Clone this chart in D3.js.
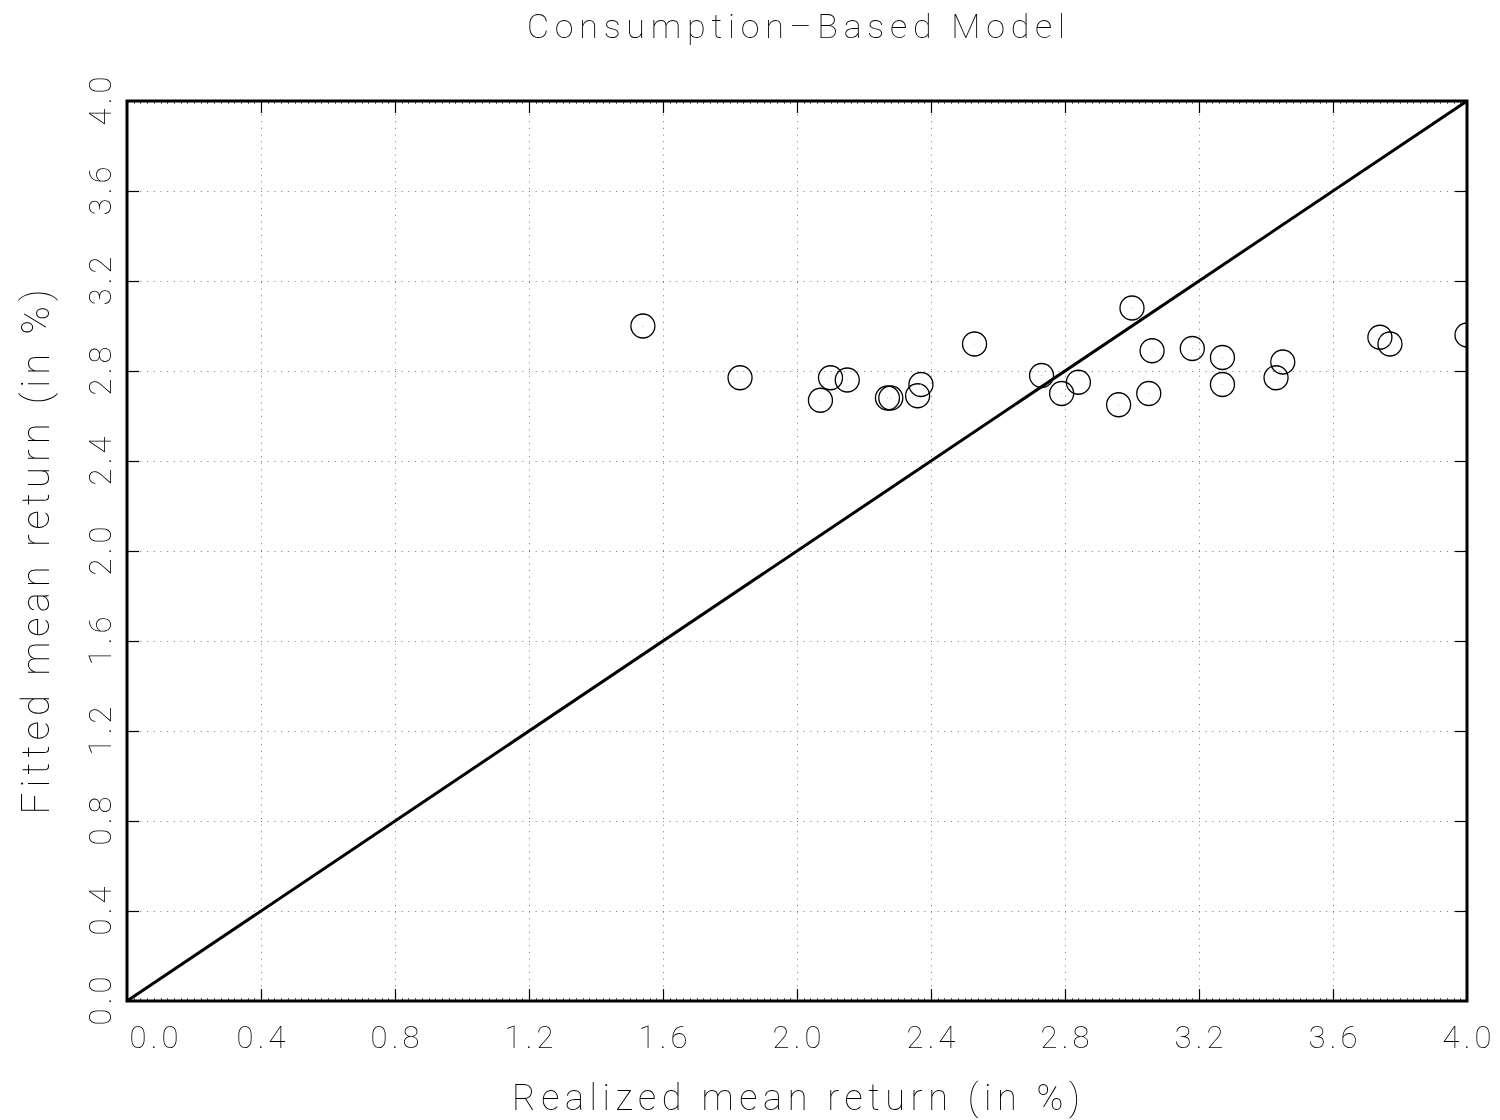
<!DOCTYPE html>
<html>
<head>
<meta charset="utf-8">
<script src="https://cdn.jsdelivr.net/npm/d3@7"></script>
<style>
  html, body { margin: 0; padding: 0; background: #fff; }
  #chart { filter: grayscale(1); }
  svg text { font-family: Roboto, "DejaVu Sans", sans-serif; font-weight: 100; fill: #000; }
</style>
</head>
<body>
<svg id="chart" width="1500" height="1120"></svg>
<script>
// Realized vs fitted mean returns (in %) for the test portfolios
const realized = [1.54, 1.83, 2.07, 2.10, 2.15, 2.27, 2.28, 2.36, 2.37, 2.53,
                  2.73, 2.79, 2.84, 3.00, 2.96, 3.06, 3.05, 3.18, 3.27, 3.27,
                  3.45, 3.43, 3.74, 3.77, 4.00];
const fitted   = [3.00, 2.77, 2.67, 2.77, 2.76, 2.68, 2.68, 2.69, 2.74, 2.92,
                  2.78, 2.70, 2.75, 3.08, 2.65, 2.89, 2.70, 2.90, 2.86, 2.74,
                  2.84, 2.77, 2.95, 2.92, 2.96];
const tickValues = [0.0, 0.4, 0.8, 1.2, 1.6, 2.0, 2.4, 2.8, 3.2, 3.6, 4.0];
const diagonal = [0, 4];

const svg = d3.select("#chart");
const pLeft = 127, pRight = 1467, pTop = 101, pBottom = 1001;

const x = d3.scaleLinear().domain([0, 4]).range([pLeft, pRight]);
const y = d3.scaleLinear().domain([0, 4]).range([pBottom, pTop]);

svg.append("defs").append("clipPath").attr("id", "plotClip")
  .append("rect").attr("x", pLeft).attr("y", pTop)
  .attr("width", pRight - pLeft).attr("height", pBottom - pTop);

// dotted grid
const grid = svg.append("g").attr("stroke", "#777").attr("stroke-width", 1)
  .attr("stroke-dasharray", "1 5.7");
grid.selectAll(".gx").data(tickValues.slice(1, -1)).join("line")
  .attr("x1", d => Math.round(x(d)) + 0.5).attr("x2", d => Math.round(x(d)) + 0.5)
  .attr("y1", pTop).attr("y2", pBottom);
grid.selectAll(".gy").data(tickValues.slice(1, -1)).join("line")
  .attr("y1", d => Math.round(y(d)) + 0.5).attr("y2", d => Math.round(y(d)) + 0.5)
  .attr("x1", pLeft).attr("x2", pRight);

// minor ticks along the top and bottom edges
const minor = d3.range(0, 4.0001, 0.02);
const mt = svg.append("g").attr("stroke", "#666").attr("stroke-width", 1);
mt.selectAll(".mt").data(minor).join("line")
  .attr("x1", d => Math.round(x(d)) + 0.5).attr("x2", d => Math.round(x(d)) + 0.5)
  .attr("y1", pTop).attr("y2", pTop + 3);
mt.selectAll(".mb").data(minor).join("line")
  .attr("x1", d => Math.round(x(d)) + 0.5).attr("x2", d => Math.round(x(d)) + 0.5)
  .attr("y1", pBottom).attr("y2", pBottom - 3);

// major ticks, pointing inward on all four sides
const tk = svg.append("g").attr("stroke", "#000").attr("stroke-width", 1.2);
tickValues.slice(1, -1).forEach(v => {
  const xv = Math.round(x(v)) + 0.5, yv = Math.round(y(v)) + 0.5;
  tk.append("line").attr("x1", xv).attr("x2", xv).attr("y1", pBottom).attr("y2", pBottom - 12);
  tk.append("line").attr("x1", xv).attr("x2", xv).attr("y1", pTop).attr("y2", pTop + 12);
  tk.append("line").attr("y1", yv).attr("y2", yv).attr("x1", pLeft).attr("x2", pLeft + 12);
  tk.append("line").attr("y1", yv).attr("y2", yv).attr("x1", pRight).attr("x2", pRight - 12);
});

// 45-degree reference line
svg.append("line")
  .attr("x1", x(diagonal[0])).attr("y1", y(diagonal[0]))
  .attr("x2", x(diagonal[1])).attr("y2", y(diagonal[1]))
  .attr("stroke", "#000").attr("stroke-width", 3);

// portfolio markers
const pts = svg.append("g").attr("clip-path", "url(#plotClip)");
const data = realized.map((r, i) => ({ r, f: fitted[i] }));
pts.selectAll("circle.m").data(data).join("circle").attr("class", "m")
  .attr("cx", d => x(d.r)).attr("cy", d => y(d.f)).attr("r", 12)
  .attr("fill", "none").attr("stroke", "#000").attr("stroke-width", 1.3);
pts.selectAll("circle.c").data(data).join("circle").attr("class", "c")
  .attr("cx", d => x(d.r)).attr("cy", d => y(d.f)).attr("r", 0.6)
  .attr("fill", "#bbb");

// frame
svg.append("rect").attr("x", pLeft).attr("y", pTop)
  .attr("width", pRight - pLeft).attr("height", pBottom - pTop)
  .attr("fill", "none").attr("stroke", "#000").attr("stroke-width", 3);

// tick labels
const fmt = d3.format(".1f");
svg.append("g").selectAll("text").data(tickValues).join("text")
  .attr("x", (d, i) => x(d) + (i === 0 ? 27 : 0))
  .attr("y", 1048)
  .attr("text-anchor", "middle")
  .attr("font-size", 31)
  .attr("textLength", 49).attr("lengthAdjust", "spacing")
  .text(fmt);

svg.append("g").selectAll("text").data(tickValues).join("text")
  .attr("transform", d => `translate(111,${y(d)}) rotate(-90)`)
  .attr("text-anchor", "middle")
  .attr("font-size", 31)
  .attr("textLength", 49).attr("lengthAdjust", "spacing")
  .text(fmt);

// titles
svg.append("text").attr("x", 796).attr("y", 38).attr("text-anchor", "middle")
  .attr("font-size", 34).attr("textLength", 538).attr("lengthAdjust", "spacing")
  .text("Consumption\u2013Based Model");

svg.append("text").attr("x", 796).attr("y", 1110).attr("text-anchor", "middle")
  .attr("font-size", 36).attr("textLength", 568).attr("lengthAdjust", "spacing")
  .text("Realized mean return (in %)");

svg.append("text").attr("transform", "translate(49,552) rotate(-90)")
  .attr("text-anchor", "middle")
  .attr("font-size", 38).attr("textLength", 525).attr("lengthAdjust", "spacing")
  .text("Fitted mean return (in %)");
</script>
</body>
</html>
